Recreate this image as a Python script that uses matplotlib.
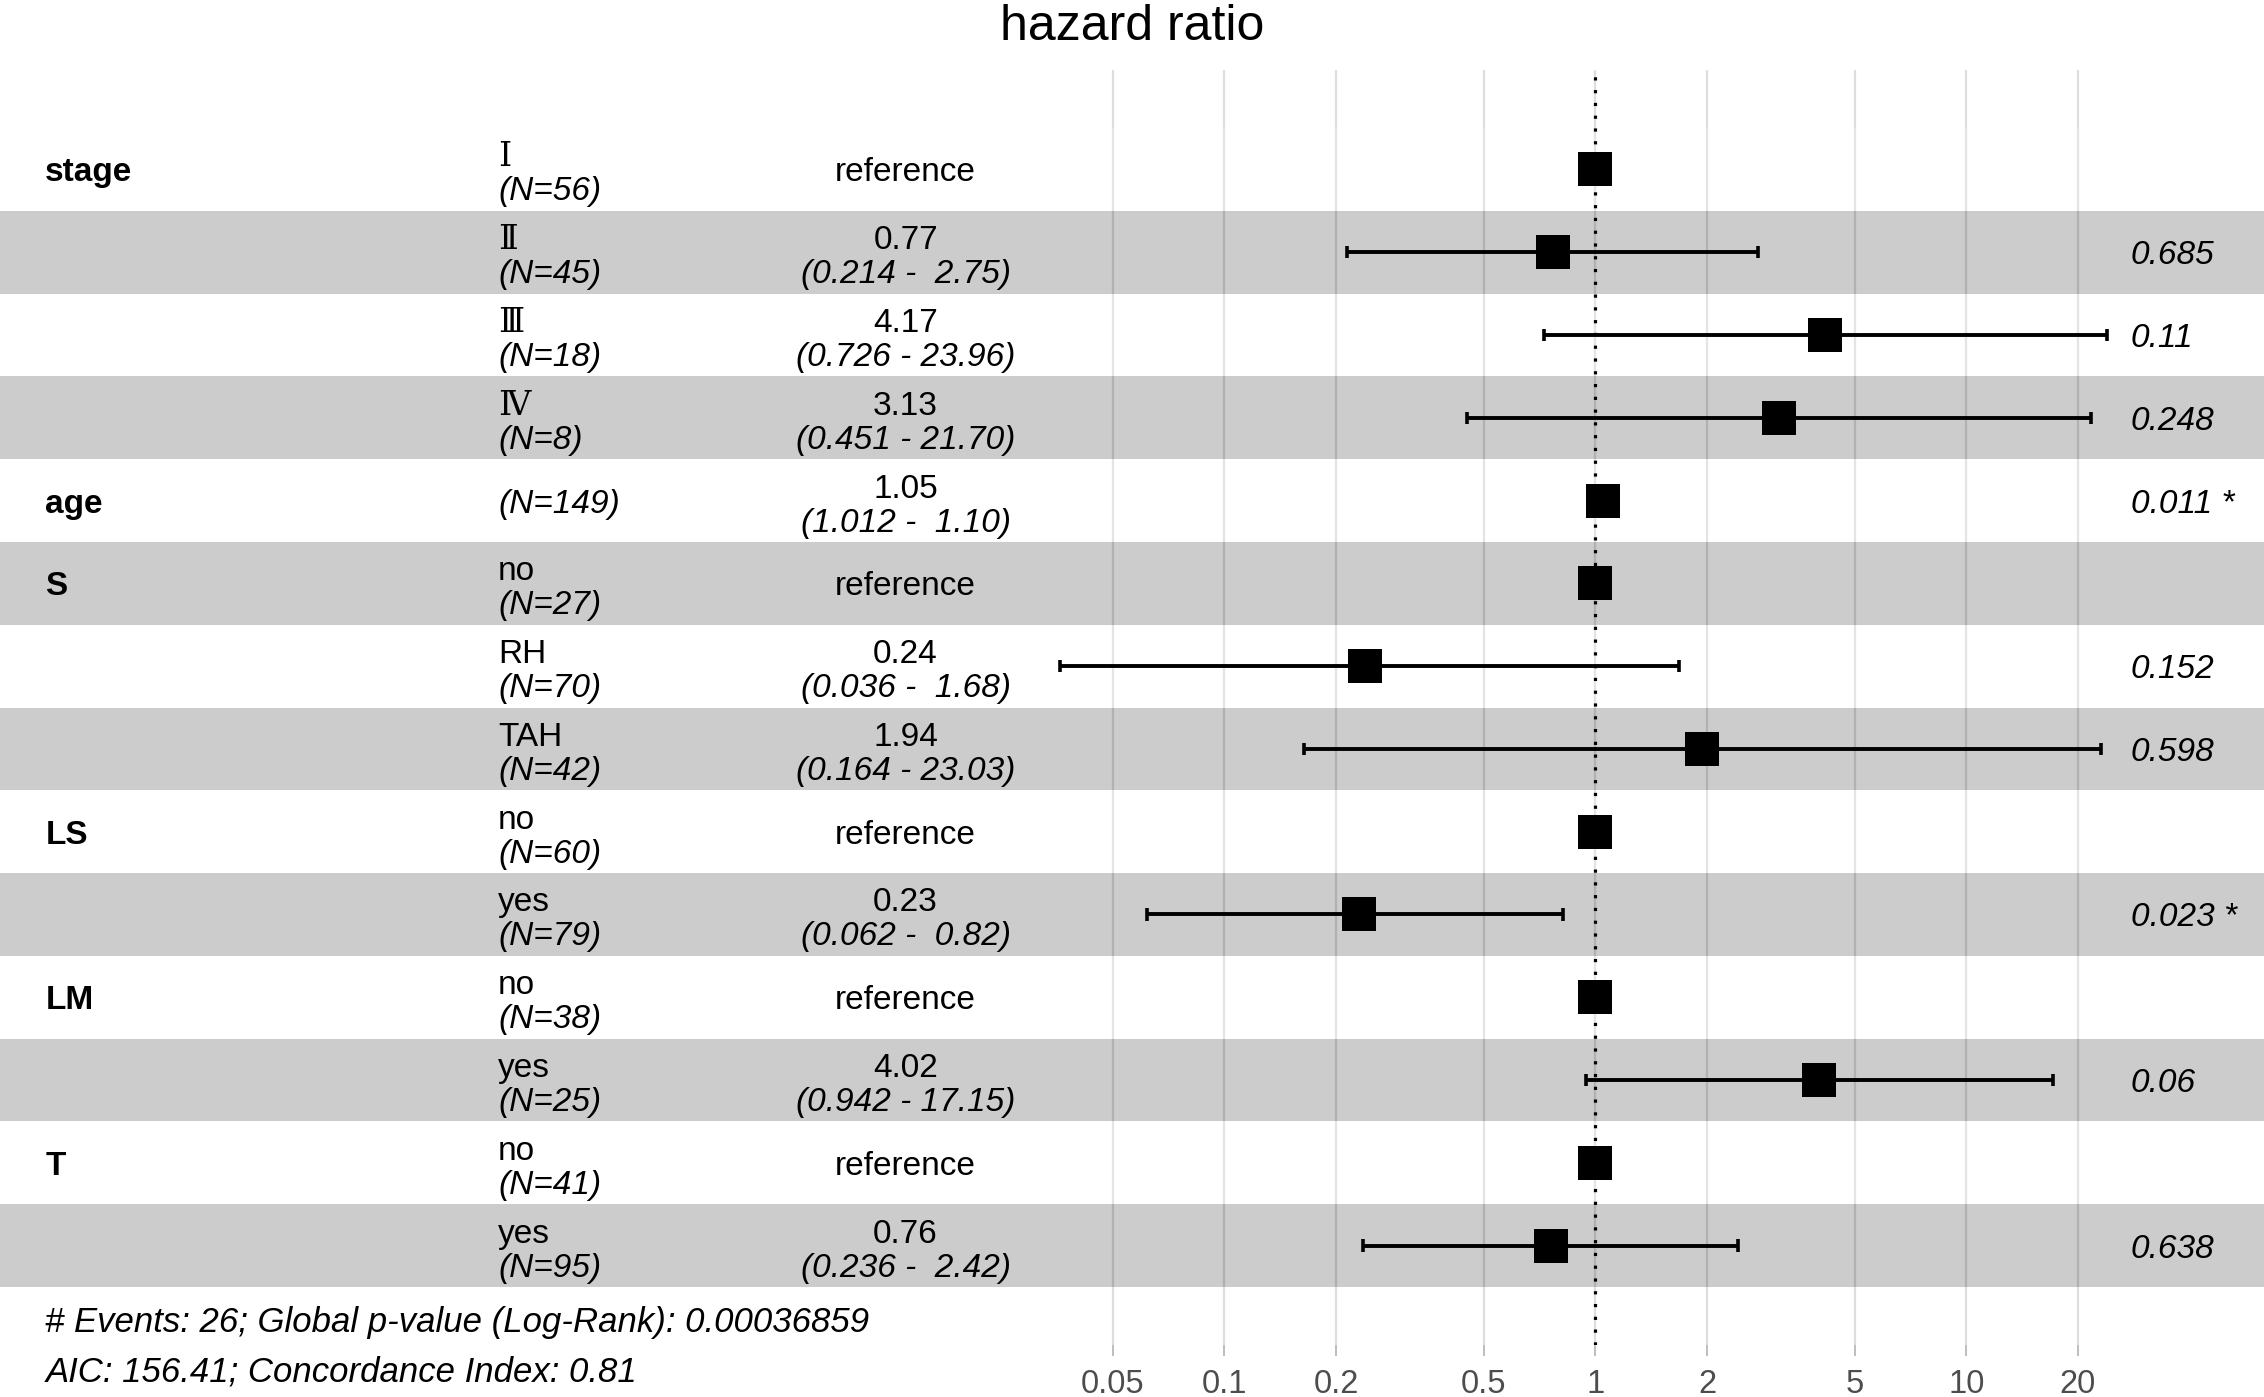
import numpy as np
import matplotlib
matplotlib.use("Agg")
import matplotlib.pyplot as plt
from matplotlib.ticker import NullLocator, FixedLocator, FixedFormatter

plt.rcParams['font.family'] = ['Liberation Sans', 'DejaVu Sans']

############################################################################
## data (top row first)
############################################################################
variables = ["stage", "", "", "", "age", "S", "", "", "LS", "", "LM", "", "T", ""]
levels    = ["Ⅰ", "Ⅱ", "Ⅲ", "Ⅳ", "", "no", "RH", "TAH", "no", "yes", "no", "yes", "no", "yes"]
n_obs     = ["(N=56)", "(N=45)", "(N=18)", "(N=8)", "(N=149)", "(N=27)", "(N=70)",
             "(N=42)", "(N=60)", "(N=79)", "(N=38)", "(N=25)", "(N=41)", "(N=95)"]
estimate  = [1.00, 0.77, 4.17, 3.13, 1.05, 1.00, 0.24, 1.94, 1.00, 0.23, 1.00, 4.02, 1.00, 0.76]
conf_low  = [np.nan, 0.214, 0.726, 0.451, 1.012, np.nan, 0.036, 0.164, np.nan, 0.062,
             np.nan, 0.942, np.nan, 0.236]
conf_high = [np.nan, 2.75, 23.96, 21.70, 1.10, np.nan, 1.68, 23.03, np.nan, 0.82,
             np.nan, 17.15, np.nan, 2.42]
est_text  = ["reference", "0.77", "4.17", "3.13", "1.05", "reference", "0.24", "1.94",
             "reference", "0.23", "reference", "4.02", "reference", "0.76"]
ci_text   = ["", "(0.214 -  2.75)", "(0.726 - 23.96)", "(0.451 - 21.70)", "(1.012 -  1.10)", "",
             "(0.036 -  1.68)", "(0.164 - 23.03)", "", "(0.062 -  0.82)", "",
             "(0.942 - 17.15)", "", "(0.236 -  2.42)"]
p_text    = ["", "0.685", "0.11", "0.248", "0.011 *", "", "0.152", "0.598", "",
             "0.023 *", "", "0.06", "", "0.638"]
breaks    = [0.05, 0.1, 0.2, 0.5, 1, 2, 5, 10, 20]

n_events = 26
p_logrank = "0.00036859"
aic = 156.41
concordance = 0.81

############################################################################
## layout
############################################################################
W, H = 2264, 1397
fig = plt.figure(figsize=(W / 100, H / 100), dpi=100, facecolor='white')
ax = fig.add_axes([0, 52 / H, 1, (H - 52 - 70) / H])

nrow = len(variables)
ys = np.arange(nrow, 0, -1)
est = np.array(estimate)
lo = np.array(conf_low)
hi = np.array(conf_high)
ok = ~np.isnan(lo)

ax.set_xscale('log')
ax.set_xlim(5.0e-5, 63.5)
ax.set_ylim(-0.2, nrow + 1.2)

## alternating bands (drawn over the grid, like ggforest)
for i, y in enumerate(ys):
    if i % 2 == 1:
        ax.axhspan(y - 0.5, y + 0.5, color='black', alpha=0.2, lw=0, zorder=1)
    else:
        ax.axhspan(y - 0.5, y + 0.5, color='white', alpha=0.2, lw=0, zorder=1)

ax.plot(est, ys, 's', ms=24.5, color='black', mew=0, zorder=3)
ax.hlines(ys[ok], lo[ok], hi[ok], color='black', lw=2.8, zorder=4)
ax.vlines(lo[ok], ys[ok] - 0.075, ys[ok] + 0.075, color='black', lw=2.6, zorder=4)
ax.vlines(hi[ok], ys[ok] - 0.075, ys[ok] + 0.075, color='black', lw=2.6, zorder=4)
ax.axvline(1, color='black', ls=(0, (1, 3)), lw=2.3, zorder=5)

## axis
ax.xaxis.set_major_locator(FixedLocator(breaks))
ax.xaxis.set_major_formatter(FixedFormatter([f"{b:g}" for b in breaks]))
ax.xaxis.set_minor_locator(NullLocator())
ax.set_yticks([])
ax.grid(axis='x', color='#DEDEDE', lw=1.6)
ax.set_axisbelow(True)
ax.tick_params(axis='x', length=8, width=1.2, color='#B3B3B3', labelcolor='#4D4D4D',
               labelsize=23.5, pad=9)
for s in ax.spines.values():
    s.set_visible(False)

## annotations
fs = 24
tr = ax.get_yaxis_transform()
x_var, x_lev, x_ci = 0.02, 0.22, 0.40
for i, y in enumerate(ys):
    if variables[i]:
        ax.annotate(variables[i], xy=(x_var, y), xycoords=tr, ha='left',
                    va='center_baseline', fontsize=fs, fontweight='bold')
    if levels[i]:
        fam = ['DejaVu Serif', 'Noto Sans CJK SC'] if levels[i] in "ⅠⅡⅢⅣ" else None
        ax.annotate(levels[i], xy=(x_lev, y), xycoords=tr, xytext=(0, 3),
                    textcoords='offset pixels', ha='left', va='baseline',
                    fontsize=fs, family=fam)
        ax.annotate(n_obs[i], xy=(x_lev, y), xycoords=tr, xytext=(0, -31),
                    textcoords='offset pixels', ha='left', va='baseline',
                    fontsize=fs, style='italic')
    else:
        ax.annotate(n_obs[i], xy=(x_lev, y), xycoords=tr, ha='left',
                    va='center_baseline', fontsize=fs, style='italic')
    if est_text[i] == "reference":
        ax.annotate(est_text[i], xy=(x_ci, y), xycoords=tr, ha='center',
                    va='center_baseline', fontsize=fs)
    else:
        ax.annotate(est_text[i], xy=(x_ci, y), xycoords=tr, xytext=(0, 3),
                    textcoords='offset pixels', ha='center', va='baseline', fontsize=fs)
        ax.annotate(ci_text[i], xy=(x_ci, y), xycoords=tr, xytext=(0, -31),
                    textcoords='offset pixels', ha='center', va='baseline',
                    fontsize=fs, style='italic')
    if p_text[i]:
        ax.annotate(p_text[i], xy=(np.nanmax(hi), y), xycoords='data', xytext=(24, 0),
                    textcoords='offset pixels', ha='left', va='center_baseline',
                    fontsize=fs, style='italic')

footer = (f"# Events: {n_events}; Global p-value (Log-Rank): {p_logrank} \n"
          f"AIC: {aic:.2f}; Concordance Index: {concordance:.2f}")
ax.annotate(footer, xy=(x_var, 0.5), xycoords=tr, xytext=(0, -19),
            textcoords='offset pixels', ha='left', va='top', fontsize=25,
            style='italic', linespacing=1.62)

fig.text(0.5, 1 - 40 / H, "hazard ratio", ha='center', va='baseline', fontsize=36)

fig.savefig("out.png", dpi=100, facecolor='white')
